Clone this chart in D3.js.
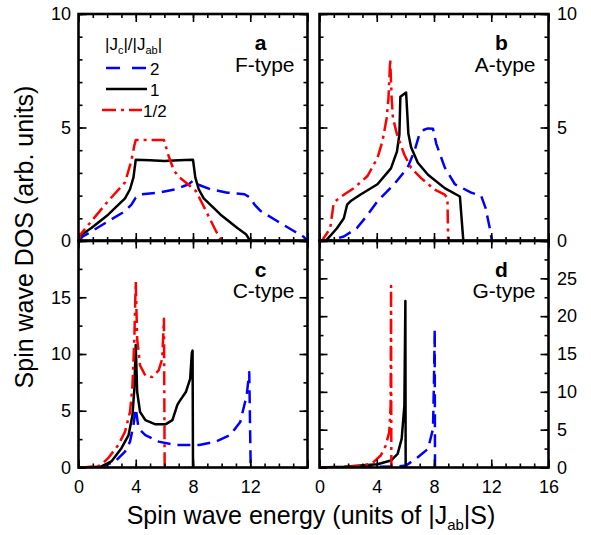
<!DOCTYPE html>
<html>
<head>
<meta charset="utf-8">
<script src="https://cdn.jsdelivr.net/npm/d3@7"></script>
<style>
  html, body { margin: 0; padding: 0; background: #fff; }
  svg { display: block; font-family: Arial, "Liberation Sans", sans-serif; }
</style>
</head>
<body>
<svg id="chart" width="591" height="535"></svg>
<script>
// ---------- data (energy in |J_ab|S, DOS in arb. units) ----------
const seriesLabels = ["2", "1", "1/2"];
const panelLetters = ["a", "b", "c", "d"];
const panelTypes = ["F-type", "A-type", "C-type", "G-type"];
const xTickLabels = [0, 4, 8, 12, 16];

// F-type
const fJ2 = [[0,0],[0.3,0.2],[0.9,0.42],[2.07,0.87],[3.25,1.31],[3.7,1.6],[4.0,1.91],[4.4,2.06],[5.6,2.13],[6.8,2.28],[7.7,2.5],[8.0,2.66],[8.3,2.5],[9.2,2.28],[10.4,2.13],[11.6,2.06],[12.0,1.91],[12.3,1.6],[12.75,1.31],[13.9,0.87],[15.1,0.42],[15.7,0.2],[16,0]];
const fJ1 = [[0,0],[0.15,0.25],[0.9,0.57],[2.07,1.16],[3.25,1.88],[3.6,2.28],[3.84,2.8],[4.0,3.58],[5.0,3.56],[6.0,3.52],[7.0,3.56],[8.0,3.58],[8.16,2.8],[8.4,2.28],[8.75,1.88],[9.93,1.16],[11.1,0.57],[11.7,0.3],[12.0,0]];
const fJh = [[0,0],[0.15,0.3],[0.9,0.87],[2.07,1.76],[3.25,2.58],[3.7,3.55],[3.9,4.2],[4.0,4.45],[5.97,4.45],[6.32,3.7],[6.67,3.1],[7.03,2.81],[7.5,2.58],[8.2,2.2],[8.68,1.61],[9.15,1.01],[9.62,0.42],[10.0,0]];

// A-type
const aJ2 = [[0,0],[0.75,0.02],[1.7,0.2],[2.6,0.56],[3.3,1.1],[4.05,1.75],[5.22,2.5],[6.16,3.24],[6.64,3.98],[6.99,4.72],[7.3,4.9],[7.58,4.96],[7.93,4.94],[8.16,4.28],[8.75,3.24],[9.46,2.5],[10.6,2.13],[11.3,1.98],[11.6,1.46],[11.9,0.56],[12.05,0]];
const aJ1 = [[0,0],[0.5,0.05],[1.22,0.56],[1.7,1.0],[1.93,1.6],[2.16,1.75],[2.87,2.05],[4.05,2.5],[4.99,3.2],[5.41,3.94],[5.58,4.68],[5.65,6.35],[6.05,6.54],[6.12,5.76],[6.21,4.72],[6.4,4.13],[6.87,3.45],[7.58,2.92],[8.75,2.33],[9.81,1.96],[10.05,0]];
const aJh = [[0,0],[0.16,0],[0.75,0.56],[0.99,1.67],[1.22,1.81],[1.7,2.04],[2.4,2.33],[3.34,2.85],[4.05,3.66],[4.4,4.4],[4.7,5.43],[4.82,6.31],[4.94,8.0],[5.04,6.31],[5.13,5.43],[5.41,4.7],[5.93,3.8],[6.4,3.22],[7.1,2.77],[8.05,2.26],[8.75,2.04],[8.94,1.89],[8.99,0]];

// C-type
const cJ2 = [[0,0],[1.5,0.02],[2.55,0.53],[3.25,1.4],[3.6,2.28],[3.84,3.73],[4.0,5.2],[4.2,3.44],[4.67,2.86],[5.6,2.28],[6.8,1.98],[8.44,1.98],[9.6,2.28],[10.6,2.86],[11.3,4.0],[11.75,6.36],[11.93,8.4],[12.03,0]];
const cJ1 = [[0,0],[0.9,0.02],[1.6,0.09],[2.3,0.53],[3.0,1.7],[3.5,2.86],[3.77,4.6],[3.9,6.9],[4.0,10.8],[4.1,6.65],[4.3,4.9],[4.67,4.17],[5.38,3.8],[6.08,3.8],[6.56,4.17],[6.75,4.9],[6.9,5.5],[7.03,5.78],[7.5,6.65],[7.8,7.8],[7.92,10.1],[7.97,10.3],[8.0,0]];
const cJh = [[0,0],[0.5,0.02],[1.5,0.15],[2.07,0.82],[2.78,1.98],[3.25,3.15],[3.6,4.9],[3.77,7.2],[3.9,11.3],[4.0,16.4],[4.1,11.3],[4.3,9.0],[4.67,8.1],[5.14,7.97],[5.6,8.55],[5.85,9.57],[5.97,13.1],[6.02,0]];

// G-type
const gJ2 = [[0,0],[2,0.02],[5.5,0.15],[6.05,0.26],[6.87,1.36],[7.58,2.46],[7.93,5.1],[8.0,11.7],[8.05,18.3],[8.07,0]];
const gJ1 = [[0,0],[1.7,0.09],[4.05,0.44],[4.99,0.92],[5.46,1.8],[5.74,3.78],[5.93,8.17],[6.0,22.0],[6.02,0]];
const gJh = [[0,0],[1,0.01],[2.87,0.18],[3.7,0.6],[4.28,1.58],[4.63,2.9],[4.87,4.66],[4.97,8.2],[5.0,24.0],[5.02,0]];

const yMaxes = [10, 10, 20, 30];
const yMajorSteps = [5, 5, 5, 5];
const yMinorSteps = [1, 1, 2.5, 2.5];

// ---------- layout ----------
const colors = ["#0000ff", "#000000", "#ff0000"];
const dashes = ["13,7", null, "14,5,3,5"];
const panelData = [[fJ2, fJ1, fJh], [aJ2, aJ1, aJh], [cJ2, cJ1, cJh], [gJ2, gJ1, gJh]];
const colX = [78.5, 319.5];
const rowY = [14, 240.5];
const W = 229, H = 227;

const svg = d3.select("#chart");
svg.append("rect").attr("width", 591).attr("height", 535).attr("fill", "#fff");

panelData.forEach((series, i) => {
  const col = i % 2, row = Math.floor(i / 2);
  const x0 = colX[col], y0 = rowY[row];
  const x = d3.scaleLinear().domain([0, 16]).range([x0, x0 + W]);
  const y = d3.scaleLinear().domain([0, yMaxes[i]]).range([y0 + H, y0]);
  const g = svg.append("g");

  const clipId = "clip" + i;
  g.append("clipPath").attr("id", clipId)
    .append("rect").attr("x", x0).attr("y", y0).attr("width", W).attr("height", H);

  const line = d3.line().x(d => x(d[0])).y(d => y(d[1]));
  const lg = g.append("g").attr("clip-path", `url(#${clipId})`);
  series.forEach((s, k) => {
    lg.append("path").datum(s)
      .attr("d", line)
      .attr("fill", "none")
      .attr("stroke", colors[k])
      .attr("stroke-width", 2.5)
      .attr("stroke-linejoin", "round")
      .attr("stroke-dasharray", dashes[k]);
  });

  // axes with inward ticks
  const xMinor = d3.range(0, 16.01, 1);
  const yMinor = d3.range(0, yMaxes[i] + 0.01, yMinorSteps[i]);
  const yMajor = d3.range(0, yMaxes[i] + 0.01, yMajorSteps[i]);
  const showX = row === 1;
  const xLab = v => (showX && !(col === 0 && v === 16)) ? v : "";
  const yLab = v => (v === yMaxes[i] && row === 1) ? "" : v;

  function styleAxis(sel) {
    sel.select(".domain").remove();
    sel.selectAll("line").attr("stroke", "#000").attr("stroke-width", 1.6);
    sel.selectAll("text").attr("font-size", 18).attr("fill", "#000")
      .attr("font-family", "Arial, 'Liberation Sans', sans-serif");
  }

  // bottom
  g.append("g").attr("transform", `translate(0,${y0 + H})`)
    .call(d3.axisBottom(x).tickValues(xMinor).tickSize(-4).tickFormat("")).call(styleAxis);
  g.append("g").attr("transform", `translate(0,${y0 + H})`)
    .call(d3.axisBottom(x).tickValues(xTickLabels).tickSize(-8).tickPadding(13).tickFormat(xLab)).call(styleAxis);
  // top
  g.append("g").attr("transform", `translate(0,${y0})`)
    .call(d3.axisTop(x).tickValues(xMinor).tickSize(-4).tickFormat("")).call(styleAxis);
  g.append("g").attr("transform", `translate(0,${y0})`)
    .call(d3.axisTop(x).tickValues(xTickLabels).tickSize(-8).tickFormat("")).call(styleAxis);
  // left
  g.append("g").attr("transform", `translate(${x0},0)`)
    .call(d3.axisLeft(y).tickValues(yMinor).tickSize(-4).tickFormat("")).call(styleAxis);
  g.append("g").attr("transform", `translate(${x0},0)`)
    .call(d3.axisLeft(y).tickValues(yMajor).tickSize(-8).tickPadding(7.5)
      .tickFormat(col === 0 ? yLab : () => "")).call(styleAxis);
  // right
  g.append("g").attr("transform", `translate(${x0 + W},0)`)
    .call(d3.axisRight(y).tickValues(yMinor).tickSize(-4).tickFormat("")).call(styleAxis);
  g.append("g").attr("transform", `translate(${x0 + W},0)`)
    .call(d3.axisRight(y).tickValues(yMajor).tickSize(-8).tickPadding(8.5)
      .tickFormat(col === 1 ? yLab : () => "")).call(styleAxis);

  // frame
  g.append("rect").attr("x", x0).attr("y", y0).attr("width", W).attr("height", H)
    .attr("fill", "none").attr("stroke", "#000").attr("stroke-width", 2.6);

  // panel labels
  g.append("text").attr("x", x0 + W - 47).attr("y", y0 + 36)
    .attr("text-anchor", "middle").attr("font-size", 21).attr("font-weight", "bold")
    .text(panelLetters[i]);
  g.append("text").attr("x", x0 + W - 13).attr("y", y0 + 57.5)
    .attr("text-anchor", "end").attr("font-size", 21)
    .text(panelTypes[i]);
});

// legend in panel a
const leg = svg.append("g");
const legTitle = leg.append("text").attr("x", 105).attr("y", 50).attr("font-size", 17);
legTitle.append("tspan").text("|J");
legTitle.append("tspan").attr("font-size", 11).attr("dy", 4).text("c");
legTitle.append("tspan").attr("dy", -4).text("|/|J");
legTitle.append("tspan").attr("font-size", 11).attr("dy", 4).text("ab");
legTitle.append("tspan").attr("dy", -4).text("|");

const legY = [68, 89, 110];
const legX1 = [106, 106, 102];
const legX2 = [147, 147, 142];
const legTX = [150, 150, 143];
seriesLabels.forEach((lab, k) => {
  leg.append("line").attr("x1", legX1[k]).attr("x2", legX2[k])
    .attr("y1", legY[k]).attr("y2", legY[k])
    .attr("stroke", colors[k]).attr("stroke-width", 2.5)
    .attr("stroke-dasharray", k === 0 ? "14,12" : dashes[k]);
  leg.append("text").attr("x", legTX[k]).attr("y", legY[k] + 6.5)
    .attr("font-size", 17).text(lab);
});

// axis titles
const xt = svg.append("text").attr("x", 311).attr("y", 524)
  .attr("text-anchor", "middle").attr("font-size", 25);
xt.append("tspan").text("Spin wave energy (units of |J");
xt.append("tspan").attr("font-size", 15).attr("dy", 6).text("ab");
xt.append("tspan").attr("dy", -6).text("|S)");

svg.append("text")
  .attr("transform", "translate(33,237) rotate(-90)")
  .attr("text-anchor", "middle").attr("font-size", 25)
  .text("Spin wave DOS (arb. units)");
</script>
</body>
</html>
